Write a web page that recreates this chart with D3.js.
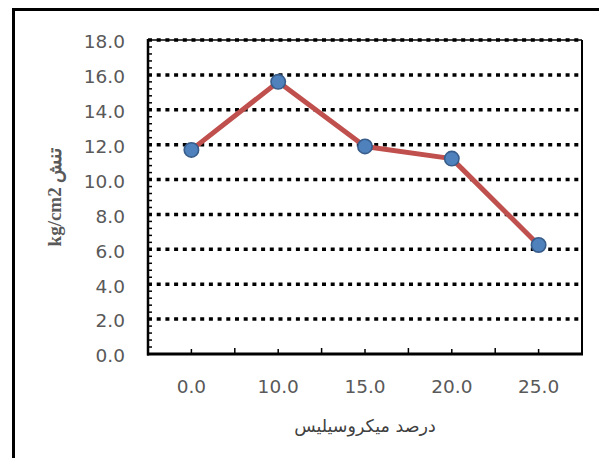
<!DOCTYPE html>
<html>
<head>
<meta charset="utf-8">
<script src="https://cdn.jsdelivr.net/npm/d3@7"></script>
<style>
  html, body { margin: 0; padding: 0; background: #fff; }
  svg { display: block; }
</style>
</head>
<body>
<div id="container"></div>
<script>
// values
const categories = ["0.0", "10.0", "15.0", "20.0", "25.0"]
const values = [11.7, 15.6, 11.9, 11.2, 6.25]
const yTicks = [0, 2, 4, 6, 8, 10, 12, 14, 16, 18]
const xTitle = "درصد میکروسیلیس"
const yTitle = "kg/cm2 تنش"

const W = 599, H = 458
const plot = { left: 148, top: 40, right: 582, bottom: 354 }

const svg = d3.select("#container")
    .append("svg")
    .attr("width", W)
    .attr("height", H)

// outer chart border (runs off right and bottom edges)
svg.append("rect")
    .attr("x", 13.5)
    .attr("y", 9.5)
    .attr("width", 620)
    .attr("height", 480)
    .attr("fill", "none")
    .attr("stroke", "#000")
    .attr("stroke-width", 3)

const x = d3.scaleBand()
    .domain(categories)
    .range([plot.left, plot.right])
    .padding(0)

const y = d3.scaleLinear()
    .domain([0, 18])
    .range([plot.bottom, plot.top])

// plot frame: top and right
svg.append("line")
    .attr("x1", plot.left).attr("x2", plot.right)
    .attr("y1", plot.top).attr("y2", plot.top)
    .attr("stroke", "#000").attr("stroke-width", 1.5)
svg.append("line")
    .attr("x1", plot.right).attr("x2", plot.right)
    .attr("y1", plot.top).attr("y2", plot.bottom)
    .attr("stroke", "#000").attr("stroke-width", 2)

// dotted gridlines
svg.append("g")
    .selectAll("line")
    .data(yTicks.filter(d => d > 0))
    .enter()
    .append("line")
    .attr("x1", plot.left)
    .attr("x2", plot.right)
    .attr("y1", d => y(d))
    .attr("y2", d => y(d))
    .attr("stroke", "#000")
    .attr("stroke-width", 3.5)
    .attr("stroke-dasharray", "4,4.7")

// y minor ticks (inside)
const minor = d3.range(0, 18.01, 0.4)
svg.append("g")
    .selectAll("line")
    .data(minor)
    .enter()
    .append("line")
    .attr("x1", plot.left)
    .attr("x2", plot.left + 4)
    .attr("y1", d => y(d))
    .attr("y2", d => y(d))
    .attr("stroke", "#000")
    .attr("stroke-width", 1.5)

// y axis labels
const yAxis = svg.append("g")
    .attr("transform", `translate(${plot.left},0)`)
    .call(d3.axisLeft(y).tickValues(yTicks).tickFormat(d3.format(".1f")).tickSize(0).tickPadding(23))
yAxis.select(".domain").remove()
yAxis.selectAll("text")
    .attr("dy", "0.42em")
    .style("font-family", "DejaVu Sans")
    .style("font-size", "18.5px")
    .attr("fill", "#595959")

// y axis line
svg.append("line")
    .attr("x1", plot.left).attr("x2", plot.left)
    .attr("y1", plot.top - 1).attr("y2", plot.bottom + 1.5)
    .attr("stroke", "#000").attr("stroke-width", 2.5)

// x axis ticks: boundaries and centres
const bounds = categories.map(c => x(c)).concat([plot.right])
svg.append("g")
    .selectAll("line")
    .data(bounds.slice(1, -1))
    .enter()
    .append("line")
    .attr("x1", d => d).attr("x2", d => d)
    .attr("y1", plot.bottom).attr("y2", plot.bottom - 6)
    .attr("stroke", "#000").attr("stroke-width", 1.5)
svg.append("g")
    .selectAll("line")
    .data(categories)
    .enter()
    .append("line")
    .attr("x1", d => x(d) + x.bandwidth() / 2)
    .attr("x2", d => x(d) + x.bandwidth() / 2)
    .attr("y1", plot.bottom).attr("y2", plot.bottom - 5)
    .attr("stroke", "#000").attr("stroke-width", 1.5)

// x axis labels
const xAxis = svg.append("g")
    .attr("transform", `translate(0,${plot.bottom})`)
    .call(d3.axisBottom(x).tickSize(0).tickPadding(26))
xAxis.select(".domain").remove()
xAxis.selectAll("text")
    .attr("dy", "0.71em")
    .style("font-family", "DejaVu Sans")
    .style("font-size", "18.5px")
    .attr("fill", "#595959")

// x axis line
svg.append("line")
    .attr("x1", plot.left - 1).attr("x2", plot.right + 1)
    .attr("y1", plot.bottom).attr("y2", plot.bottom)
    .attr("stroke", "#000").attr("stroke-width", 3)

// series line
const line = d3.line()
    .x((d, i) => x(categories[i]) + x.bandwidth() / 2)
    .y(d => y(d))

svg.append("path")
    .datum(values)
    .attr("d", line)
    .attr("fill", "none")
    .attr("stroke", "#c0504d")
    .attr("stroke-width", 5)
    .attr("stroke-linejoin", "round")

svg.append("g")
    .selectAll("circle")
    .data(values)
    .enter()
    .append("circle")
    .attr("cx", (d, i) => x(categories[i]) + x.bandwidth() / 2)
    .attr("cy", d => y(d))
    .attr("r", 7.2)
    .attr("fill", "#4f81bd")
    .attr("stroke", "#385d8a")
    .attr("stroke-width", 1.6)

// axis titles
svg.append("text")
    .attr("x", (plot.left + plot.right) / 2)
    .attr("y", 432)
    .attr("text-anchor", "middle")
    .style("font-family", "DejaVu Sans")
    .style("font-size", "17.5px")
    .attr("fill", "#404040")
    .text(xTitle)

svg.append("text")
    .attr("transform", `translate(61,${(plot.top + plot.bottom) / 2}) rotate(-90)`)
    .attr("text-anchor", "middle")
    .attr("direction", "ltr")
    .style("font-family", "Liberation Serif")
    .style("font-weight", "bold")
    .style("font-size", "19px")
    .attr("fill", "#595959")
    .text(yTitle)
</script>
</body>
</html>
